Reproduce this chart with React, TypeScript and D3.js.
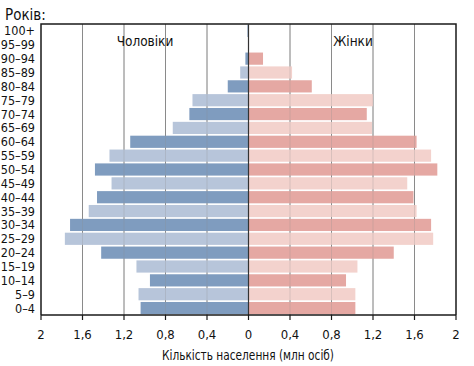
import React from "react";
import * as d3 from "d3";

// age groups, top to bottom
const ages = [
  "100+", "95–99", "90–94", "85–89", "80–84", "75–79", "70–74", "65–69",
  "60–64", "55–59", "50–54", "45–49", "40–44", "35–39", "30–34", "25–29",
  "20–24", "15–19", "10–14", "5–9", "0–4",
];
// population, mln people
const male = [
  0.01, 0.005, 0.03, 0.08, 0.2, 0.54, 0.57, 0.73,
  1.14, 1.34, 1.48, 1.32, 1.46, 1.54, 1.72, 1.77,
  1.42, 1.08, 0.95, 1.06, 1.04,
];
const female = [
  0.005, 0.005, 0.14, 0.42, 0.61, 1.2, 1.14, 1.19,
  1.62, 1.76, 1.82, 1.53, 1.59, 1.62, 1.76, 1.78,
  1.4, 1.05, 0.94, 1.03, 1.03,
];
const tickValues = [-2, -1.6, -1.2, -0.8, -0.4, 0, 0.4, 0.8, 1.2, 1.6, 2];

const FONT = "'DejaVu Sans Condensed', 'DejaVu Sans', sans-serif";

export default function App() {
  const width = 474;
  const height = 366;
  const left = 41, right = 456, top = 24, bottom = 315;

  const x = d3.scaleLinear().domain([-2, 2]).range([left, right]);
  const y = d3.scaleBand<string>().domain(ages).range([top, bottom]).paddingInner(0.12).paddingOuter(0.06);

  // alternating shades: 0–4 dark, 5–9 light, ...
  const isDark = (i: number) => (ages.length - 1 - i) % 2 === 0;
  const fmt = (v: number) => String(Math.abs(v)).replace(".", ",");
  const txt = { fontFamily: FONT, fontStretch: "condensed", fill: "#111" } as const;

  return (
    <svg width={width} height={height} style={{ position: "absolute", left: 0, top: 0 }}>
      <rect width={width} height={height} fill="#fff" />
      {/* grid behind */}
      {tickValues.filter(t => Math.abs(t) !== 2 && t !== 0).map(t => (
        <line key={"g" + t} x1={x(t)} x2={x(t)} y1={top} y2={bottom} stroke="#8a8a8a" strokeWidth={1} />
      ))}
      {ages.map((a, i) => (
        <g key={a}>
          <rect x={x(-male[i])} y={y(a)} width={x(0) - x(-male[i])} height={y.bandwidth()}
            fill={isDark(i) ? "#7f9cbf" : "#b7c5da"} />
          <rect x={x(0)} y={y(a)} width={x(female[i]) - x(0)} height={y.bandwidth()}
            fill={isDark(i) ? "#e5a8a3" : "#f3d2cd"} />
        </g>
      ))}
      {/* faint grid over bars */}
      {tickValues.filter(t => Math.abs(t) !== 2 && t !== 0).map(t => (
        <line key={"f" + t} x1={x(t)} x2={x(t)} y1={top} y2={bottom} stroke="#8a8a8a" strokeOpacity={0.25} strokeWidth={1} />
      ))}
      {/* frame */}
      <path d={`M${left},${bottom}V${top}H${right}V${bottom}`} fill="none" stroke="#1a1a1a" strokeWidth={1.5} />
      <line x1={x(0)} x2={x(0)} y1={top} y2={bottom} stroke="#333" strokeWidth={1.2} />
      <line x1={left} x2={right} y1={bottom} y2={bottom} stroke="#1a1a1a" strokeWidth={1.5} />
      {tickValues.map(t => (
        <g key={"t" + t}>
          <line x1={x(t)} x2={x(t)} y1={bottom} y2={bottom + 5} stroke="#1a1a1a" strokeWidth={1.2} />
          <text x={x(t)} y={bottom + 24} textAnchor="middle" fontSize={13} {...txt}>{fmt(t)}</text>
        </g>
      ))}
      {ages.map(a => (
        <text key={"l" + a} x={35} y={(y(a) ?? 0) + y.bandwidth() / 2 + 4.5} textAnchor="end"
          fontSize={12.5} {...txt}>{a}</text>
      ))}
      <text x={5} y={20} fontSize={15} {...txt}>Років:</text>
      <text x={145} y={46} textAnchor="middle" fontSize={13.5} {...txt}>Чоловіки</text>
      <text x={353} y={46} textAnchor="middle" fontSize={13.5} {...txt}>Жінки</text>
      <text x={248} y={360} textAnchor="middle" fontSize={14.5} textLength={172} lengthAdjust="spacingAndGlyphs" {...txt}>
        Кількість населення (млн осіб)
      </text>
    </svg>
  );
}
